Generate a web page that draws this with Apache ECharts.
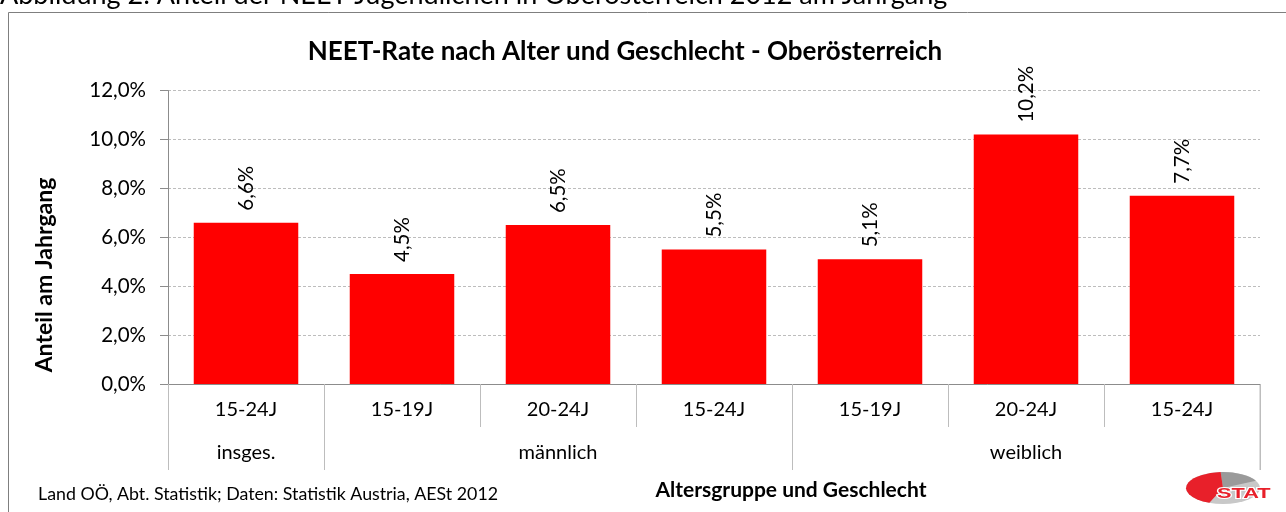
<!DOCTYPE html>
<html>
<head>
<meta charset="utf-8">
<script src="https://cdn.jsdelivr.net/npm/echarts@6/dist/echarts.min.js"></script>
<style>
html,body{margin:0;padding:0;background:#fff;}
#chart{width:1286px;height:512px;}
</style>
</head>
<body>
<div id="chart"></div>
<script>
const ageGroups = ['15-24J', '15-19J', '20-24J', '15-24J', '15-19J', '20-24J', '15-24J'];
const genderGroups = ['insges.', '', 'männlich', '', '', 'weiblich', ''];
const groupStartIdx = [0, 1, 4];
const neetRate = [6.6, 4.5, 6.5, 5.5, 5.1, 10.2, 7.7];
const yTicks = [0, 2, 4, 6, 8, 10, 12];

const FONT = 'Lato, "Open Sans", sans-serif';
const fmt = v => v.toFixed(1).replace('.', ',') + '%';

const GRID = { left: 168, right: 26, top: 90.6, bottom: 128 };
const W = 1286, H = 512;

const chart = echarts.init(document.getElementById('chart'));
const option = {
  animation: false,
  backgroundColor: '#fff',
  grid: Object.assign({ containLabel: false }, GRID),
  title: {
    text: 'NEET-Rate nach Alter und Geschlecht - Oberösterreich',
    left: 620, top: 34, textAlign: 'center',
    textStyle: { fontFamily: FONT, fontSize: 26, fontWeight: 'bold', color: '#000' }
  },
  xAxis: [
    {
      type: 'category', data: ageGroups, position: 'bottom',
      axisLine: { show: true, lineStyle: { color: '#8c8c8c', width: 1 } },
      axisTick: { show: true, interval: 0, length: 43, lineStyle: { color: '#bdbdbd' } },
      axisLabel: { interval: 0, margin: 16, fontFamily: FONT, fontSize: 20, color: '#000' }
    },
    {
      type: 'category', data: genderGroups, position: 'bottom', offset: 43,
      axisLine: { show: false },
      axisTick: { show: true, length: 43, lineStyle: { color: '#bdbdbd' },
        interval: (idx) => groupStartIdx.includes(idx) },
      axisLabel: { interval: 0, margin: 16, fontFamily: FONT, fontSize: 20, color: '#000' }
    }
  ],
  yAxis: {
    type: 'value', min: 0, max: 12, interval: 2,
    axisLine: { show: true, lineStyle: { color: '#8c8c8c' } },
    axisTick: { show: true, length: 8, lineStyle: { color: '#8c8c8c' } },
    axisLabel: { formatter: fmt, margin: 22, fontFamily: FONT, fontSize: 20.5, color: '#000' },
    splitLine: { show: true, lineStyle: { color: '#bdbdbd', type: [3, 2] } }
  },
  series: [{
    type: 'bar', data: neetRate, barWidth: '67%', xAxisIndex: 0,
    itemStyle: { color: '#ff0000' },
    label: {
      show: true, position: 'top', rotate: 90, distance: 12, align: 'left', verticalAlign: 'middle',
      formatter: p => fmt(p.value), fontFamily: FONT, fontSize: 20.5, color: '#000'
    }
  }],
  graphic: [
    { type: 'text', left: 0, top: -18, style: { text: 'Abbildung 2: Anteil der NEET-Jugendlichen in Oberösterreich 2012 am Jahrgang', fontFamily: FONT, fontSize: 27, fill: '#000' } },
    { type: 'rect', shape: { x: 8.5, y: 12.5, width: 1300, height: 520 }, style: { fill: 'none', stroke: '#7f7f7f', lineWidth: 1 }, z: -1 },
    { type: 'line', shape: { x1: W - GRID.right, y1: H - GRID.bottom, x2: W - GRID.right, y2: H - GRID.bottom + 86 }, style: { stroke: '#bdbdbd', lineWidth: 1 } },
    { type: 'text', x: 45, y: 275, rotation: Math.PI / 2, style: { text: 'Anteil am Jahrgang', fontFamily: FONT, fontSize: 23, fontWeight: 'bold', fill: '#000', align: 'center', verticalAlign: 'middle' } },
    { type: 'text', x: 791, y: 490, style: { text: 'Altersgruppe und Geschlecht', fontFamily: FONT, fontSize: 21, fontWeight: 'bold', fill: '#000', align: 'center', verticalAlign: 'middle' } },
    { type: 'text', left: 38, top: 485, style: { text: 'Land OÖ, Abt. Statistik; Daten: Statistik Austria, AESt 2012', fontFamily: FONT, fontSize: 17.8, fill: '#000' } },
    {
      type: 'group', x: 1223, y: 488, scaleY: 0.43, children: [
        { type: 'circle', shape: { cx: 0, cy: 0, r: 37 }, style: { fill: '#c8c8c8' } },
        { type: 'sector', shape: { cx: 0, cy: 0, r: 37, startAngle: -Math.PI * 0.52, endAngle: -Math.PI * 0.15 }, style: { fill: '#9a9a9a' } },
        { type: 'sector', shape: { cx: 0, cy: 0, r: 37, startAngle: Math.PI * 0.62, endAngle: Math.PI * 1.48 }, style: { fill: '#e8202a' } }
      ]
    },
    {
      type: 'text', x: 1217, y: 486, scaleX: 1.45,
      style: { text: 'STAT', fontFamily: '"Liberation Sans", Arial, sans-serif', fontSize: 15, fontWeight: 'bold', fill: '#e8202a', stroke: '#fff', lineWidth: 2 }
    }
  ]
};
chart.setOption(option);
</script>
</body>
</html>
